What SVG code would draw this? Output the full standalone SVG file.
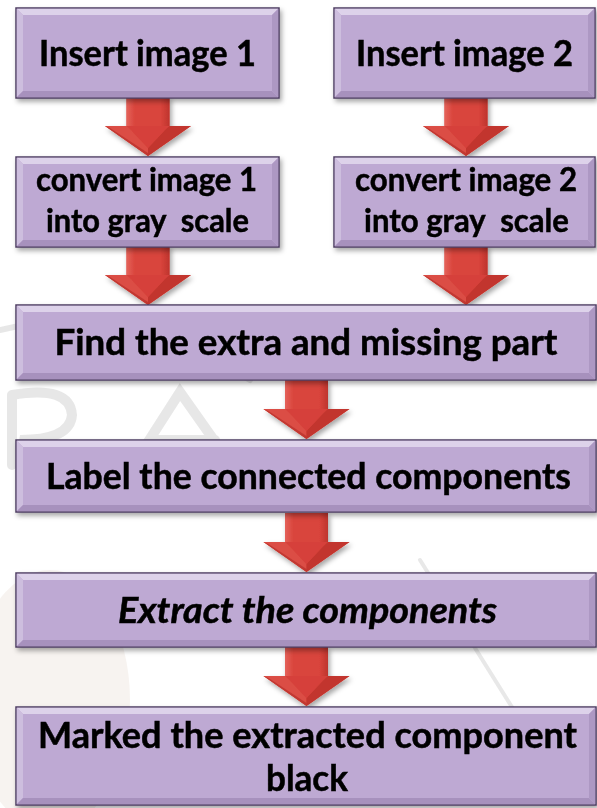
<svg xmlns="http://www.w3.org/2000/svg" width="597" height="808" viewBox="0 0 597 808">
<defs>
<style>
.box{fill:#BEA9D3;stroke:#4E3E62;stroke-width:1.5}
.bt{fill:#DDD2EA}
.bl{fill:#CDBEDE}
.bb{fill:#A791BD}
.br{fill:#AD98C3}
.t{font-family:Lato,"Liberation Sans",sans-serif;font-weight:bold;fill:#000;text-anchor:middle;white-space:pre;stroke:#000;stroke-width:0.5}
.wm{fill:none;stroke:#dedede;stroke-linecap:round}
</style>
<filter id="sh" x="-10%" y="-10%" width="120%" height="130%">
<feDropShadow dx="2" dy="3" stdDeviation="2.5" flood-color="#000" flood-opacity="0.35"/>
</filter>
<linearGradient id="shaft" x1="0" y1="0" x2="1" y2="0">
<stop offset="0" stop-color="#E4625A"/>
<stop offset="0.2" stop-color="#D9443C"/>
<stop offset="0.8" stop-color="#D9443C"/>
<stop offset="1" stop-color="#BE342D"/>
</linearGradient>
<g id="arrow">
<path d="M-21.5,0 H21.5 V29 H43 L0,59 L-43,29 H-21.5 Z" fill="#D6413A"/>
<path d="M-21.5,0 H21.5 V29 H-21.5 Z" fill="url(#shaft)"/>
<path d="M-43,29 H-21.5 L-16,34 L0,51 L0,59 Z" fill="#DB4D45"/>
<path d="M43,29 H21.5 L16,34 L0,51 L0,59 Z" fill="#C2362F"/>
<path d="M-16,34 H16 L0,51 Z" fill="#D6413A"/>
<path d="M-43,29 L0,59 L0,56 L-38,31 Z" fill="#B02C25" opacity="0.6"/>
</g>
</defs>
<rect width="597" height="808" fill="#fff"/>
<g id="background" opacity="0.7">
<ellipse cx="50" cy="700" rx="80" ry="130" fill="#f4eee9"/>
<path class="wm" stroke-width="10" d="M12,395 L12,465 M12,395 Q70,385 72,415 Q70,440 20,440 L95,470"/>
<path class="wm" stroke-width="10" d="M130,470 L180,392 L235,470 M150,440 L215,440"/>
<path class="wm" stroke-width="6" d="M0,330 Q120,300 250,380"/>
<path class="wm" stroke-width="4" d="M420,560 Q470,640 520,720"/>
</g>
<g id="connectors" filter="url(#sh)">
<use href="#arrow" x="148" y="97"/>
<use href="#arrow" x="466" y="97"/>
<use href="#arrow" x="148" y="246"/>
<use href="#arrow" x="466" y="246"/>
<use href="#arrow" x="306.5" y="380"/>
<use href="#arrow" x="306.5" y="513"/>
<use href="#arrow" x="306.5" y="647"/>
</g>
<g id="n1" filter="url(#sh)">
<rect class="box" x="16" y="8" width="263" height="90"/>
<polygon class="bt" points="16.75,8.75 278.25,8.75 272,15 23,15"/>
<polygon class="bl" points="16.75,8.75 23,15 23,91 16.75,97.25"/>
<polygon class="bb" points="16.75,97.25 23,91 272,91 278.25,97.25"/>
<polygon class="br" points="278.25,8.75 278.25,97.25 272,91 272,15"/>
<text class="t" x="147.5" y="66" font-size="36" textLength="217" lengthAdjust="spacingAndGlyphs">Insert image 1</text>
</g>
<g id="n2" filter="url(#sh)">
<rect class="box" x="334" y="8" width="261" height="90"/>
<polygon class="bt" points="334.75,8.75 594.25,8.75 588,15 341,15"/>
<polygon class="bl" points="334.75,8.75 341,15 341,91 334.75,97.25"/>
<polygon class="bb" points="334.75,97.25 341,91 588,91 594.25,97.25"/>
<polygon class="br" points="594.25,8.75 594.25,97.25 588,91 588,15"/>
<text class="t" x="464.5" y="66" font-size="36" textLength="217" lengthAdjust="spacingAndGlyphs">Insert image 2</text>
</g>
<g id="n3" filter="url(#sh)">
<rect class="box" x="16" y="157" width="263" height="90"/>
<polygon class="bt" points="16.75,157.75 278.25,157.75 272,164 23,164"/>
<polygon class="bl" points="16.75,157.75 23,164 23,240 16.75,246.25"/>
<polygon class="bb" points="16.75,246.25 23,240 272,240 278.25,246.25"/>
<polygon class="br" points="278.25,157.75 278.25,246.25 272,240 272,164"/>
<text class="t" x="146.5" y="191" font-size="32" textLength="221" lengthAdjust="spacingAndGlyphs">convert image 1</text>
<text class="t" x="147.5" y="232" font-size="32" textLength="203" lengthAdjust="spacingAndGlyphs">into gray  scale</text>
</g>
<g id="n4" filter="url(#sh)">
<rect class="box" x="334" y="157" width="261" height="90"/>
<polygon class="bt" points="334.75,157.75 594.25,157.75 588,164 341,164"/>
<polygon class="bl" points="334.75,157.75 341,164 341,240 334.75,246.25"/>
<polygon class="bb" points="334.75,246.25 341,240 588,240 594.25,246.25"/>
<polygon class="br" points="594.25,157.75 594.25,246.25 588,240 588,164"/>
<text class="t" x="466" y="191" font-size="32" textLength="222" lengthAdjust="spacingAndGlyphs">convert image 2</text>
<text class="t" x="466.5" y="232" font-size="32" textLength="205" lengthAdjust="spacingAndGlyphs">into gray  scale</text>
</g>
<g id="n5" filter="url(#sh)">
<rect class="box" x="16" y="305" width="580" height="75"/>
<polygon class="bt" points="16.75,305.75 595.25,305.75 589,312 23,312"/>
<polygon class="bl" points="16.75,305.75 23,312 23,373 16.75,379.25"/>
<polygon class="bb" points="16.75,379.25 23,373 589,373 595.25,379.25"/>
<polygon class="br" points="595.25,305.75 595.25,379.25 589,373 589,312"/>
<text class="t" x="306" y="355" font-size="36" textLength="503" lengthAdjust="spacingAndGlyphs">Find the extra and missing part</text>
</g>
<g id="n6" filter="url(#sh)">
<rect class="box" x="16" y="440" width="580" height="72"/>
<polygon class="bt" points="16.75,440.75 595.25,440.75 589,447 23,447"/>
<polygon class="bl" points="16.75,440.75 23,447 23,505 16.75,511.25"/>
<polygon class="bb" points="16.75,511.25 23,505 589,505 595.25,511.25"/>
<polygon class="br" points="595.25,440.75 595.25,511.25 589,505 589,447"/>
<text class="t" x="308.5" y="489" font-size="36" textLength="525" lengthAdjust="spacingAndGlyphs">Label the connected components</text>
</g>
<g id="n7" filter="url(#sh)">
<rect class="box" x="16" y="573" width="580" height="74"/>
<polygon class="bt" points="16.75,573.75 595.25,573.75 589,580 23,580"/>
<polygon class="bl" points="16.75,573.75 23,580 23,640 16.75,646.25"/>
<polygon class="bb" points="16.75,646.25 23,640 589,640 595.25,646.25"/>
<polygon class="br" points="595.25,573.75 595.25,646.25 589,640 589,580"/>
<text class="t" x="307.5" y="623" font-size="36" font-style="italic" textLength="379" lengthAdjust="spacingAndGlyphs">Extract the components</text>
</g>
<g id="n8" filter="url(#sh)">
<rect class="box" x="16" y="707" width="580" height="98"/>
<polygon class="bt" points="16.75,707.75 595.25,707.75 589,714 23,714"/>
<polygon class="bl" points="16.75,707.75 23,714 23,798 16.75,804.25"/>
<polygon class="bb" points="16.75,804.25 23,798 589,798 595.25,804.25"/>
<polygon class="br" points="595.25,707.75 595.25,804.25 589,798 589,714"/>
<text class="t" x="307.5" y="748" font-size="36" textLength="539" lengthAdjust="spacingAndGlyphs">Marked the extracted component</text>
<text class="t" x="307" y="791" font-size="36" textLength="82" lengthAdjust="spacingAndGlyphs">black</text>
</g>
</svg>
